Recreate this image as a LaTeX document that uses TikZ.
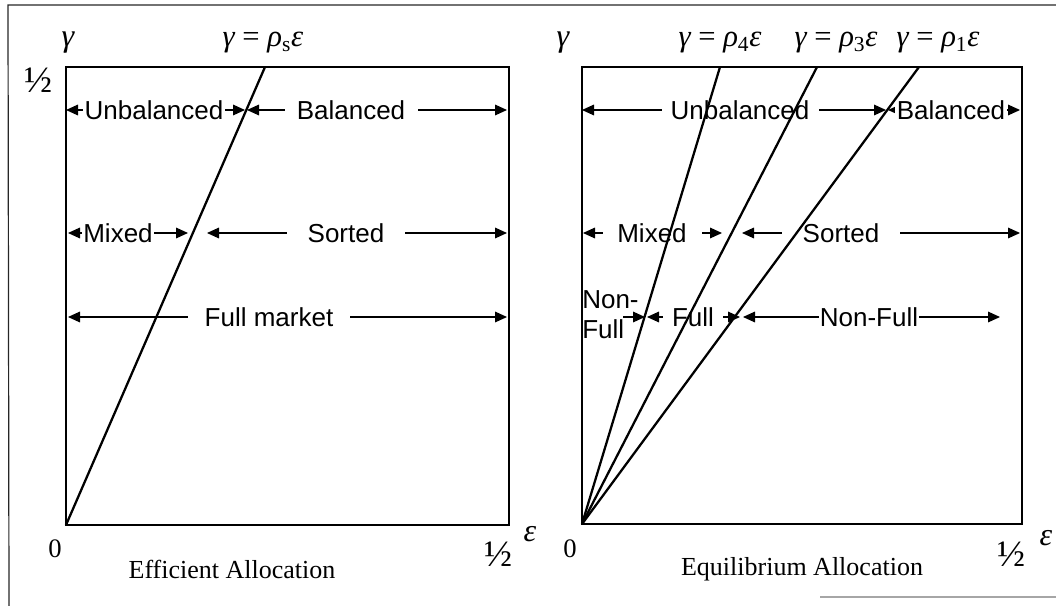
\documentclass[tikz,border=0pt]{standalone}
\usepackage{fontspec}
\setmainfont{Liberation Serif}
\newfontfamily\arialf{Liberation Sans}
\usetikzlibrary{arrows.meta}
\begin{document}
\begin{tikzpicture}[x=0.75pt,y=-0.75pt,
  frameline/.style={line width=0.9pt, draw=black!85},
  boxline/.style={line width=2pt},
  ray/.style={line width=1.7pt},
  span/.style={line width=0.9pt,{Triangle[length=9pt,width=8pt]}-{Triangle[length=9pt,width=8pt]}},
  spanr/.style={line width=0.9pt,-{Triangle[length=9pt,width=8pt]}},
  lab/.style={font=\arialf\fontsize{19.5}{22.5}\selectfont, fill=white, inner xsep=1pt, inner ysep=2pt},
  ser/.style={font=\fontsize{19.5}{22}\selectfont, inner sep=0pt},
  axg/.style={font=\fontsize{24}{26}\selectfont, inner sep=0pt},
  frm/.style={font=\fontsize{23}{25}\selectfont, inner sep=0pt},
  half/.style={font=\fontsize{28}{30}\selectfont, inner sep=0pt},
  zero/.style={font=\fontsize{20}{22}\selectfont, inner sep=0pt}]

\useasboundingbox (0,0) rectangle (1056,606);

% outer frame (partial, as scanned)
\coordinate (F1) at (8,5); \coordinate (F2) at (1056,5); \coordinate (F3) at (9,606);
\coordinate (F4) at (820,597); \coordinate (F5) at (1056,597);
\draw[frameline] (F2) -- (F1) -- (F3);
\draw[line width=0.8pt, draw=black!35] (F4) -- (F5);

% ---------- left panel coordinates ----------
\coordinate (LA) at (66,67); \coordinate (LB) at (509,525);
\coordinate (LO) at (66,525); \coordinate (LT) at (265,67);

% arrows left
\coordinate (a1) at (66,110);  \coordinate (a2) at (245,110);
\coordinate (a3) at (247,110); \coordinate (a4) at (507,110);
\coordinate (b1) at (68,233);  \coordinate (b2) at (188,233);
\coordinate (b3) at (207,233); \coordinate (b4) at (507,233);
\coordinate (c1) at (68,317);  \coordinate (c2) at (507,317);
\draw[span] (a1) -- (a2);
\draw[span] (a3) -- (a4);
\draw[span] (b1) -- (b2);
\draw[span] (b3) -- (b4);
\draw[span] (c1) -- (c2);
\node[lab] (lunb) at (154,110) {Unbalanced};
\node[lab, minimum width=99.75pt] (lbal) at (351,110) {Balanced};
\node[lab] (lmix) at (118,233) {Mixed};
\node[lab, minimum width=88.5pt] (lsor) at (346,233) {Sorted};
\node[lab, minimum width=121.5pt] (lful) at (269,317) {Full market};

\draw[ray] (LO) -- (LT);
\draw[boxline] (LA) rectangle (LB);

\node[axg] (lgam) at (68,43) {\itshape γ};
\node[frm] (lrho) at (263,43) {\itshape γ \upshape = \itshape ρ\upshape\textsubscript{s}\itshape ε};
\node[half] (lhalfy) at (38,80) {½};
\node[zero] (lzero) at (55,549) {0};
\node[half] (lhalfx) at (498,554) {½};
\node[axg] (leps) at (530,534) {\itshape ε};
\node[ser] (lcap) at (232,569) {Efficient Allocation};

% ---------- right panel coordinates ----------
\coordinate (RA) at (582,67); \coordinate (RB) at (1022,524);
\coordinate (RO) at (582,524);
\coordinate (R4) at (720,67); \coordinate (R3) at (817,67); \coordinate (R1) at (919,67);

\coordinate (d1) at (582,110);  \coordinate (d2) at (886,110);
\coordinate (d3) at (888,110);  \coordinate (d4) at (1020,110);
\coordinate (e1) at (583,233);  \coordinate (e2) at (722,233);
\coordinate (e3) at (742,233);  \coordinate (e4) at (1020,233);
\coordinate (g1) at (623,317);  \coordinate (g2) at (645,317);
\coordinate (g3) at (647,317);  \coordinate (g4) at (740,317);
\coordinate (g5) at (743,317);  \coordinate (g6) at (1000,317);
\draw[span] (d1) -- (d2);
\draw[span] (d3) -- (d4);
\draw[span] (e1) -- (e2);
\draw[span] (e3) -- (e4);
\draw[spanr] (g1) -- (g2);
\draw[span] (g3) -- (g4);
\draw[span] (g5) -- (g6);
\node[lab, minimum width=117.75pt] (runb) at (740,110) {Unbalanced};
\node[lab] (rbal) at (951,110) {Balanced};
\node[lab, minimum width=74.25pt] (rmix) at (652,233) {Mixed};
\node[lab, minimum width=88.5pt] (rsor) at (841,233) {Sorted};
\node[lab, minimum width=45pt] (rful) at (693,317) {Full};
\node[lab] (rnf) at (869,317) {Non-Full};
\node[lab, fill=none, align=left, anchor=west, inner xsep=0pt] (rnf2) at (582,315) {Non-\\Full};

\draw[ray] (RO) -- (R4);
\draw[ray] (RO) -- (R3);
\draw[ray] (RO) -- (R1);
\draw[boxline] (RA) rectangle (RB);

\node[axg] (rgam) at (563,43) {\itshape γ};
\node[frm] (rrho4) at (720,43) {\itshape γ \upshape = \itshape ρ\upshape\textsubscript{4}\itshape ε};
\node[frm] (rrho3) at (836,43) {\itshape γ \upshape = \itshape ρ\upshape\textsubscript{3}\itshape ε};
\node[frm] (rrho1) at (938,43) {\itshape γ \upshape = \itshape ρ\upshape\textsubscript{1}\itshape ε};
\node[zero] (rzero) at (570,549) {0};
\node[half] (rhalfx) at (1011,554) {½};
\node[axg] (reps) at (1046,538) {\itshape ε};
\node[ser] (rcap) at (802,569) {Equilibrium Allocation};
\end{tikzpicture}
\end{document}
